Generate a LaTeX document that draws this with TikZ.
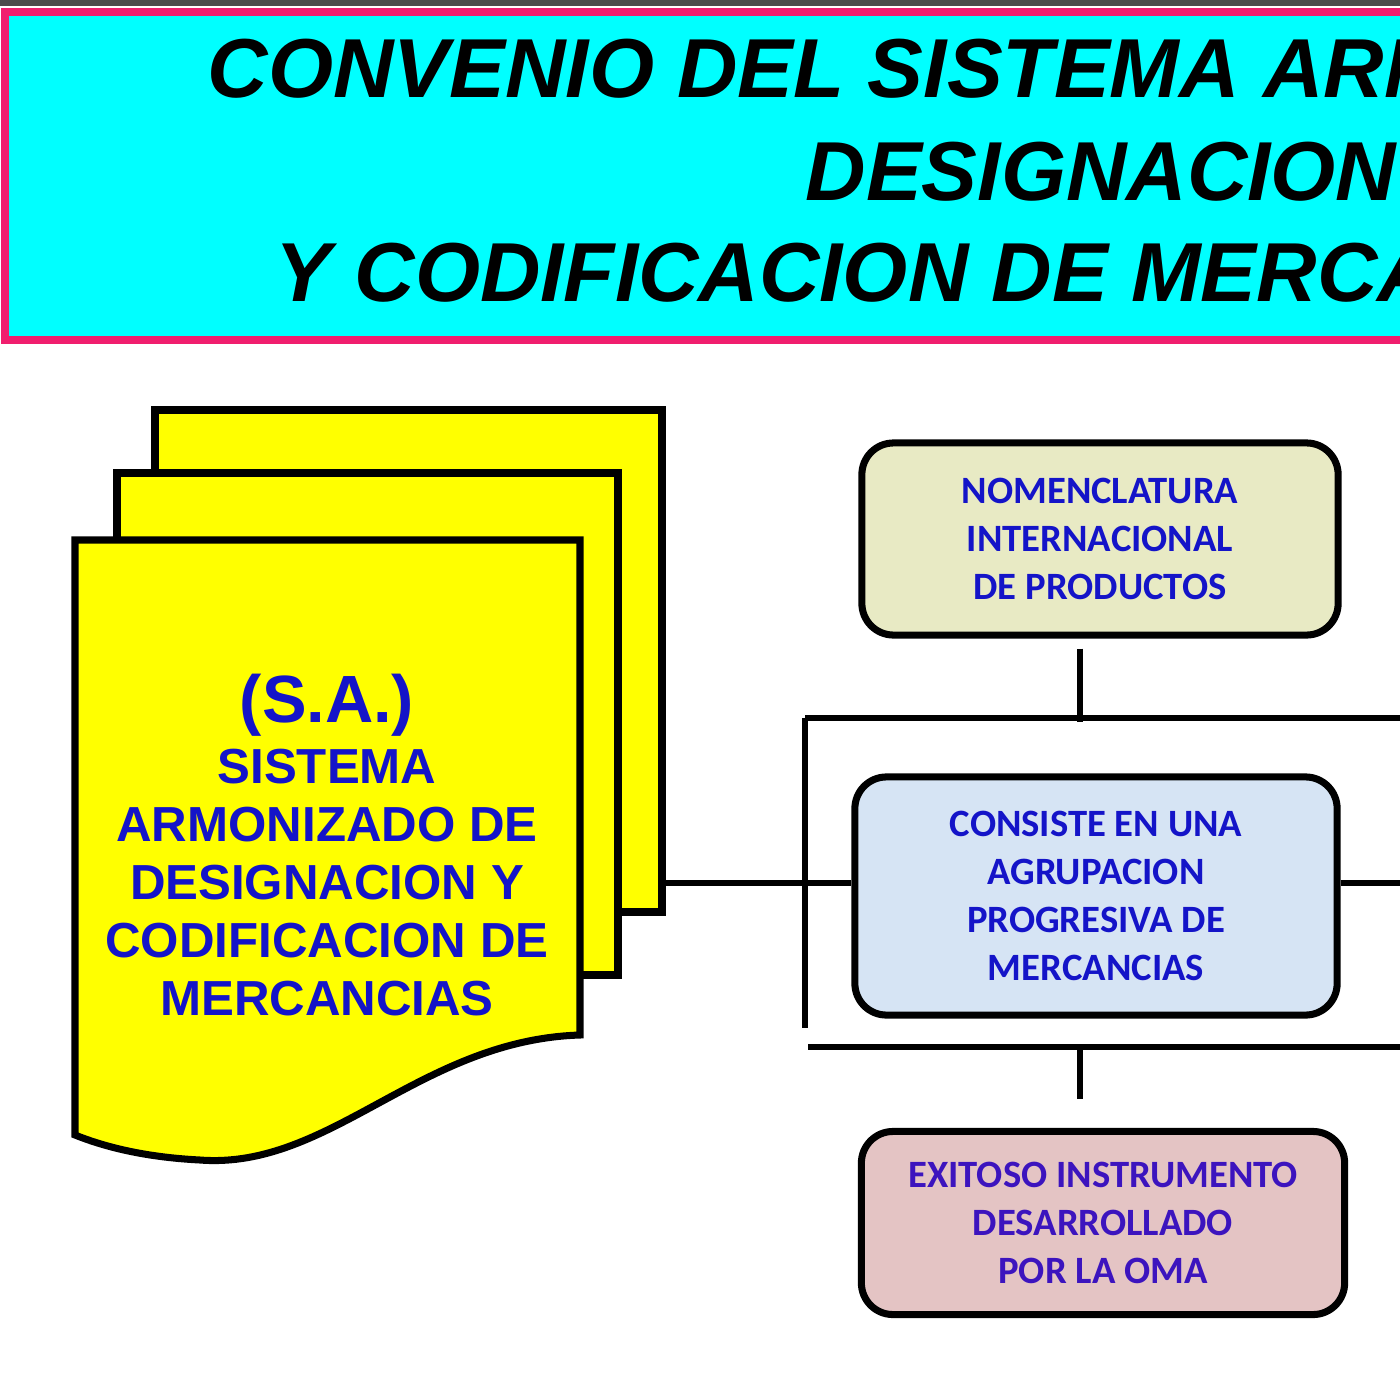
\documentclass[tikz,border=0pt]{standalone}
\usepackage{fontspec}
\setmainfont{Liberation Sans}
\newfontfamily\boxfont{Carlito}
\usepackage{tikz}
\definecolor{banner}{RGB}{0,255,255}
\definecolor{bannerline}{RGB}{240,30,110}
\definecolor{pageyellow}{RGB}{255,255,0}
\definecolor{textblue}{RGB}{20,20,200}
\definecolor{fillnom}{RGB}{232,234,196}
\definecolor{fillcon}{RGB}{214,228,244}
\definecolor{fillexi}{RGB}{228,196,196}
\definecolor{textpurple}{RGB}{60,20,190}
\tikzset{
	page/.style={draw=black, line width=2pt, fill=pageyellow},
	titleline/.style={anchor=base west, inner sep=0pt, font=\bfseries\itshape\fontsize{23.8}{28}\selectfont},
	infobox/.style={draw=black, line width=2pt, rounded corners=9pt, align=center, font=\boxfont\bfseries\fontsize{11}{13.7}\selectfont, text=textblue},
	link/.style={draw=black, line width=1.6pt}
}
\begin{document}
\begin{tikzpicture}[x=0.01cm, y=-0.01cm]
	\useasboundingbox (0,0) rectangle (1400,1400);
	\clip (0,0) rectangle (1400,1400);

	% title banner
	\fill[black!70] (0,0) rectangle (1400,6);
	\draw[fill=banner, draw=bannerline, line width=2pt] (5,12) rectangle (1420,340);
	\node[titleline] (t1) at (207,98) {CONVENIO DEL SISTEMA ARMONIZADO DE};
	\node[titleline] (t2) at (805,201) {DESIGNACION};
	\node[titleline] (t3) at (275,301) {Y CODIFICACION DE MERCANCIAS};

	% stacked pages
	\draw[page] (155,410) rectangle (662,912);
	\draw[page] (117,473) rectangle (618,975);
	\draw[page] (75,540) -- (580,540) -- (580,1035) .. controls (420,1040) and (330,1170) .. (200,1160) .. controls (140,1157) and (100,1145) .. (75,1135) -- cycle;
	\node[align=center, text=textblue, font=\bfseries\fontsize{14}{16.5}\selectfont] (sa) at (327,845)
		{{\fontsize{19}{24}\selectfont (S.A.)}\\[1pt] SISTEMA\\ARMONIZADO DE\\DESIGNACION Y\\CODIFICACION DE\\MERCANCIAS};

	% boxes
	\node[infobox, fill=fillnom, minimum width=4.76cm, minimum height=1.92cm] (nom) at (1100,539)
		{NOMENCLATURA\\INTERNACIONAL\\DE PRODUCTOS};
	\node[infobox, fill=fillcon, minimum width=4.82cm, minimum height=2.38cm] (con) at (1096,896)
		{CONSISTE EN UNA\\AGRUPACION\\PROGRESIVA DE\\MERCANCIAS};
	\node[infobox, fill=fillexi, text=textpurple, minimum width=4.83cm, minimum height=1.83cm] (exi) at (1103,1223)
		{EXITOSO INSTRUMENTO\\DESARROLLADO\\POR LA OMA};

	% connectors
	\coordinate (pg) at (662,883);
	\coordinate (tl) at (805,718);
	\coordinate (tr) at (1400,718);
	\coordinate (bl) at (808,1047);
	\coordinate (br) at (1400,1047);
	\coordinate (rr) at (1400,883);
	\draw[link] (nom.south) ++(-20,10) -- ++(0,73);
	\draw[link] (tl) -- (tr);
	\draw[link] (tl) -- ++(0,310);
	\draw[link] (bl) -- (br);
	\draw[link] (exi.north) ++(-23,-81) -- ++(0,52);
	\draw[link] (pg) -- (pg -| con.west);
	\draw[link] (rr -| con.east) -- (rr);
\end{tikzpicture}
\end{document}
